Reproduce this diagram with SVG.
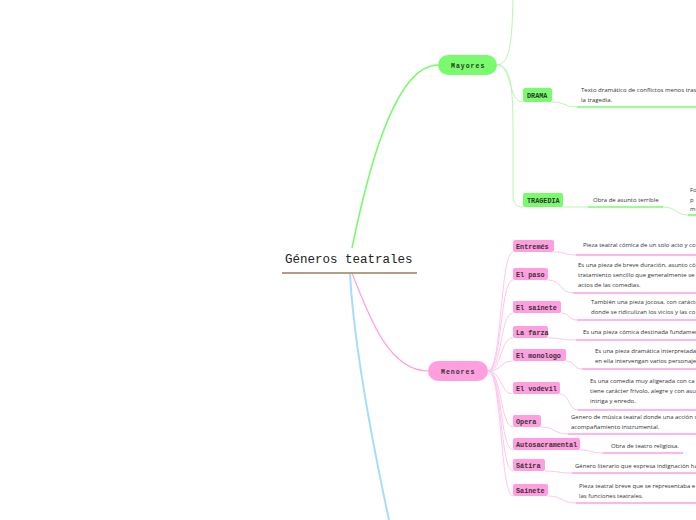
<svg xmlns="http://www.w3.org/2000/svg" width="696" height="520" viewBox="0 0 696 520">
<style>
.bg{fill:#ffffff}
.title{font-family:"Liberation Mono",monospace;font-size:12.5px;fill:#222}
.main{font-family:"Liberation Mono",monospace;font-size:6.5px;font-weight:bold;letter-spacing:1px;fill:#2a3a28}
.lbl{font-family:"Liberation Mono",monospace;font-size:6.8px;font-weight:bold;fill:#333}
.desc{font-family:"Open Sans","Liberation Sans",sans-serif;font-size:6px;fill:#333}
.gbox{fill:#79fb6d}
.pbox{fill:#ff9fdf}
.gthin{fill:none;stroke:#b8f7b0;stroke-width:1}
.gthick{fill:none;stroke:#79fb6d;stroke-width:1.6}
.pthin{fill:none;stroke:#ffc6ec;stroke-width:1}
.pthick{fill:none;stroke:#ff9fdf;stroke-width:1.6}
</style>
<rect class="bg" x="0" y="0" width="696" height="520"/>
<g id="connectors">
  <path d="M352,248 C368,170 395,65 438,65" fill="none" stroke="#79fb6d" stroke-width="1.6"/>
  <path d="M352,273 C370,320 390,371 428,371" fill="none" stroke="#ff9fdf" stroke-width="1.2"/>
  <path d="M350,273 C354,350 374,450 389,520" fill="none" stroke="#a8dcff" stroke-width="2"/>
  <path class="gthin" d="M497,65 C510,65 512,40 513,0"/>
  <path class="gthin" d="M497,65 C512,65 508,102 523,102"/>
  <path class="gthin" d="M497,65 C514,65 513,100 513,150 L513,192 C513,203 515,207 523,207"/>
  <path class="gthin" d="M552,102 C565,102 565,107 577,107"/>
  <path class="gthick" d="M577,107 L696,107"/>
  <path class="gthin" d="M563,207 L588,207"/>
  <path class="gthick" d="M588,207 L663,207"/>
  <path class="gthin" d="M663,207 C676,207 676,215 688,215"/>
  <path class="gthick" d="M688,215 L696,215"/>
  <path class="pthin" d="M488,371 C502,371 500,252 513,252"/>
  <path class="pthin" d="M488,371 C502,371 500,280 513,280"/>
  <path class="pthin" d="M488,371 C502,371 500,313 513,313"/>
  <path class="pthin" d="M488,371 C502,371 500,338 513,338"/>
  <path class="pthin" d="M488,371 C502,371 500,361 513,361"/>
  <path class="pthin" d="M488,371 C502,371 500,394 513,394"/>
  <path class="pthin" d="M488,371 C502,371 500,427 513,427"/>
  <path class="pthin" d="M488,371 C502,371 500,450 513,450"/>
  <path class="pthin" d="M488,371 C502,371 500,471 513,471"/>
  <path class="pthin" d="M488,371 C502,371 500,496 513,496"/>
  <path class="pthin" d="M554,252 C565,252 565,255 576,255"/>
  <path class="pthick" d="M576,255 L696,255"/>
  <path class="pthin" d="M548,280 C562,280 560,293 573,293"/>
  <path class="pthick" d="M573,293 L696,293"/>
  <path class="pthin" d="M561,313 C570,313 568,320 577,320"/>
  <path class="pthick" d="M577,320 L696,320"/>
  <path class="pthin" d="M548,338 C562,338 562,340 576,340"/>
  <path class="pthick" d="M576,340 L696,340"/>
  <path class="pthin" d="M566,361 C575,361 573,369 582,369"/>
  <path class="pthick" d="M582,369 L696,369"/>
  <path class="pthin" d="M560,394 C570,394 568,410 578,410"/>
  <path class="pthick" d="M578,410 L696,410"/>
  <path class="pthin" d="M541,427 C555,427 554,434 568,434"/>
  <path class="pthick" d="M568,434 L696,434"/>
  <path class="pthin" d="M580,450 C592,450 591,453 603,453"/>
  <path class="pthick" d="M603,453 L683,453"/>
  <path class="pthin" d="M545,471 C558,471 558,473 572,473"/>
  <path class="pthick" d="M572,473 L696,473"/>
  <path class="pthin" d="M548,496 C562,496 562,503 576,503"/>
  <path class="pthick" d="M576,503 L696,503"/>
</g>
<g id="root">
  <text class="title" x="285" y="263">Géneros teatrales</text>
  <line x1="282" y1="273" x2="417" y2="273" stroke="#b39f7f" stroke-width="2"/>
</g>
<g id="mayores">
  <rect class="gbox" x="438" y="55" width="59" height="20" rx="10"/>
  <text class="main" x="451" y="67.5">Mayores</text>
</g>
<g id="drama">
  <rect class="gbox" x="523" y="88" width="29" height="14" rx="2"/>
  <text class="lbl" x="527" y="97.5">DRAMA</text>
  <text class="desc" x="581" y="92">Texto dramático de conflictos menos tras</text>
  <text class="desc" x="581" y="101.5">la tragedia.</text>
</g>
<g id="tragedia">
  <rect class="gbox" x="523" y="193" width="40" height="14" rx="2"/>
  <text class="lbl" x="527" y="202.5">TRAGEDIA</text>
  <text class="desc" x="593" y="202">Obra de asunto terrible</text>
  <text class="desc" x="690" y="192">Fo</text>
  <text class="desc" x="690" y="201.5">p</text>
  <text class="desc" x="690" y="211">m</text>
</g>
<g id="menores">
  <rect class="pbox" x="428" y="361" width="60" height="20" rx="10"/>
  <text class="main" x="441" y="373.5">Menores</text>
</g>
<g id="entremes">
  <rect class="pbox" x="513" y="240" width="41" height="12" rx="2"/>
  <text class="lbl" x="516" y="248.5">Entremés</text>
  <text class="desc" x="583" y="247">Pieza teatral cómica de un solo acto y co</text>
</g>
<g id="elpaso">
  <rect class="pbox" x="513" y="268" width="35" height="12" rx="2"/>
  <text class="lbl" x="516" y="276.5">El paso</text>
  <text class="desc" x="578" y="267">Es una pieza de breve duración, asunto có</text>
  <text class="desc" x="578" y="277">tratamiento sencillo que generalmente se</text>
  <text class="desc" x="578" y="287">actos de las comedias.</text>
</g>
<g id="elsainete">
  <rect class="pbox" x="513" y="301" width="48" height="12" rx="2"/>
  <text class="lbl" x="516" y="309.5">El sainete</text>
  <text class="desc" x="591" y="304">También una pieza jocosa, con carácte</text>
  <text class="desc" x="591" y="314">donde se ridiculizan los vicios y las co</text>
</g>
<g id="lafarza">
  <rect class="pbox" x="513" y="326" width="35" height="12" rx="2"/>
  <text class="lbl" x="516" y="334.5">La farza</text>
  <text class="desc" x="583" y="334">Es una pieza cómica destinada fundamen</text>
</g>
<g id="elmonologo">
  <rect class="pbox" x="513" y="349" width="53" height="12" rx="2"/>
  <text class="lbl" x="516" y="357.5">El monologo</text>
  <text class="desc" x="595" y="353">Es una pieza dramática interpretada</text>
  <text class="desc" x="595" y="363">en ella intervengan varios personaje</text>
</g>
<g id="elvodevil">
  <rect class="pbox" x="513" y="382" width="47" height="12" rx="2"/>
  <text class="lbl" x="516" y="390.5">El vodevil</text>
  <text class="desc" x="590" y="383">Es una comedia muy aligerada con ca</text>
  <text class="desc" x="590" y="393">tiene carácter frívolo, alegre y con asu</text>
  <text class="desc" x="590" y="403">intriga y enredo.</text>
</g>
<g id="opera">
  <rect class="pbox" x="513" y="415" width="28" height="12" rx="2"/>
  <text class="lbl" x="516" y="423.5">Opera</text>
  <text class="desc" x="571" y="419">Genero de música teatral donde una acción s</text>
  <text class="desc" x="571" y="429">acompañamiento instrumental.</text>
</g>
<g id="autosacramental">
  <rect class="pbox" x="513" y="438" width="67" height="12" rx="2"/>
  <text class="lbl" x="516" y="446.5">Autosacramental</text>
  <text class="desc" x="611" y="448">Obra de teatro religiosa.</text>
</g>
<g id="satira">
  <rect class="pbox" x="513" y="459" width="32" height="12" rx="2"/>
  <text class="lbl" x="516" y="467.5">Sátira</text>
  <text class="desc" x="575" y="468">Género literario que expresa indignación ha</text>
</g>
<g id="sainete">
  <rect class="pbox" x="513" y="484" width="35" height="12" rx="2"/>
  <text class="lbl" x="516" y="492.5">Sainete</text>
  <text class="desc" x="579" y="488">Pieza teatral breve que se representaba e</text>
  <text class="desc" x="579" y="498">las funciones teatrales.</text>
</g>
</svg>
